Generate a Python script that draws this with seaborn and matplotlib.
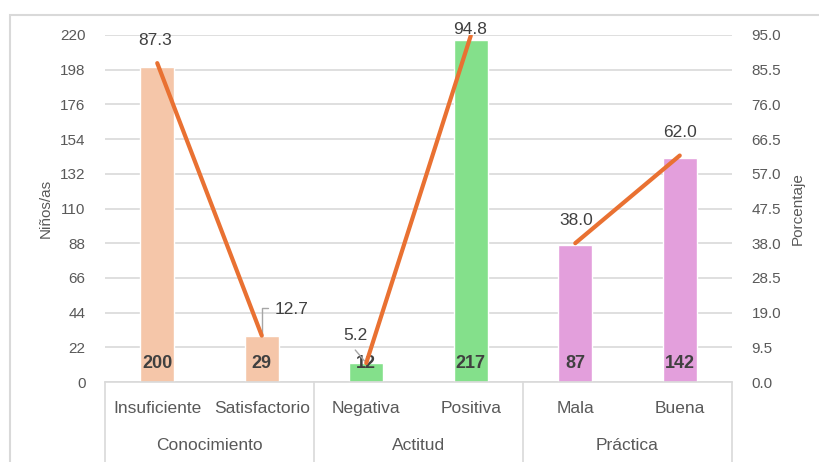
import matplotlib
matplotlib.use("Agg")
import matplotlib.pyplot as plt
import matplotlib.transforms as mtransforms
from matplotlib.patches import Rectangle
import seaborn as sns
import pandas as pd
import numpy as np

categories = ["Insuficiente", "Satisfactorio", "Negativa", "Positiva", "Mala", "Buena"]
groups = ["Conocimiento", "Conocimiento", "Actitud", "Actitud", "Práctica", "Práctica"]
group_names = ["Conocimiento", "Actitud", "Práctica"]
counts = [200, 29, 12, 217, 87, 142]
percent = [87.3, 12.7, 5.2, 94.8, 38.0, 62.0]
left_ticks = [0, 22, 44, 66, 88, 110, 132, 154, 176, 198, 220]
right_ticks = [0.0, 9.5, 19.0, 28.5, 38.0, 47.5, 57.0, 66.5, 76.0, 85.5, 95.0]

sns.set_theme(style="white")
plt.rcParams['font.family'] = ['Liberation Sans Narrow', 'Liberation Sans', 'DejaVu Sans']

df = pd.DataFrame({"cat": categories, "grp": groups, "n": counts, "pct": percent})
df["pos"] = np.arange(len(df))

W, H = 819, 462
fig = plt.figure(figsize=(W / 100, H / 100), dpi=100)
ax = fig.add_axes([105 / W, 1 - 382 / H, (732 - 105) / W, (382 - 35) / H])

palette = {"Conocimiento": "#F5C6A9", "Actitud": "#84E08B", "Práctica": "#E39FDC"}
sns.barplot(data=df, x="cat", y="n", hue="grp", palette=palette, dodge=False,
            width=0.33, legend=False, ax=ax, saturation=1)

txt = "#595959"
lab_font = ['Liberation Sans', 'DejaVu Sans']
ax.set_ylim(0, 220)
ax.set_xlim(-0.5, len(categories) - 0.5)
ax.set_yticks(left_ticks)
ax.set_yticklabels([str(t) for t in left_ticks], color=txt, fontsize=11, family=lab_font)
ax.yaxis.grid(True, color="#D9D9D9", lw=1.2)
ax.set_axisbelow(True)
for s in ["top", "right", "left"]:
    ax.spines[s].set_visible(False)
ax.spines["bottom"].set_color("#D9D9D9")
ax.spines["bottom"].set_linewidth(1.2)
ax.tick_params(axis="y", length=0, pad=14)
ax.tick_params(axis="x", length=0, pad=14)
ax.set_xticks(range(len(categories)))
ax.set_xticklabels(categories, color=txt, fontsize=12.5)
ax.set_xlabel("")
ax.set_ylabel("Niños/as", color=txt, fontsize=11, labelpad=5, family=lab_font)

# bar value labels
for i, v in enumerate(counts):
    ax.text(i, 11.5, str(v), ha="center", va="center", fontsize=13,
            fontweight="bold", color="#404040", zorder=6)

# group labels and separators
trans = mtransforms.blended_transform_factory(ax.transData, ax.transAxes)
axh = (382 - 35)
for g in group_names:
    idx = [i for i, gg in enumerate(groups) if gg == g]
    ax.text(np.mean(idx), -(445 - 382) / axh, g, transform=trans, ha="center",
            va="center", fontsize=12.5, color=txt)
bounds = [-0.5] + [i + 0.5 for i in range(len(groups) - 1) if groups[i] != groups[i + 1]] + [len(groups) - 0.5]
for b in bounds:
    ax.plot([b, b], [0, -(90) / axh], transform=trans, color="#D9D9D9", lw=1.2, clip_on=False)

# secondary axis
ax2 = ax.twinx()
sns.lineplot(data=df, x="pos", y="pct", units="grp", estimator=None, color="#E97132",
             lw=3, ax=ax2, legend=False, zorder=5)
ax2.set_ylim(0, 95)
ax2.set_xlim(-0.5, len(categories) - 0.5)
ax2.set_yticks(right_ticks)
ax2.set_yticklabels([f"{t:.1f}" for t in right_ticks], color=txt, fontsize=11, family=lab_font)
ax2.tick_params(axis="y", length=0, pad=14)
ax2.set_ylabel("Porcentaje", color=txt, fontsize=11, labelpad=7, family=lab_font)
ax2.set_xlabel("")
for s in ["top", "right", "left", "bottom"]:
    ax2.spines[s].set_visible(False)
ax2.grid(False)

# line labels
offsets = [(-2, 23), (30, 26), (-11, 28), (-1, 6), (1, 23), (0, 23)]
for i, (p, off) in enumerate(zip(percent, offsets)):
    ax2.annotate(f"{p:.1f}", (i, p), xytext=(off[0] * 0.72, off[1] * 0.72),
                 textcoords="offset points", ha="center", va="center",
                 fontsize=12.5, color="#404040", zorder=7, family=lab_font)
# leader lines
ax2.annotate("", (1, percent[1]), xytext=(6 * 0.72, 28 * 0.72), textcoords="offset points",
             arrowprops=dict(arrowstyle="-", color="#A6A6A6", lw=1, shrinkA=0, shrinkB=0,
                             connectionstyle="angle,angleA=0,angleB=90,rad=0"))
ax2.annotate("", (2, percent[2]), xytext=(-11 * 0.72, 13 * 0.72), textcoords="offset points",
             arrowprops=dict(arrowstyle="-", color="#A6A6A6", lw=1, shrinkA=0, shrinkB=2))

# outer frame
fig.add_artist(Rectangle((10 / W, -0.1), 2, 1 - 15 / H + 0.1, fill=False,
                         edgecolor="#D9D9D9", lw=1.5, transform=fig.transFigure))

fig.savefig("out.png", dpi=100)
